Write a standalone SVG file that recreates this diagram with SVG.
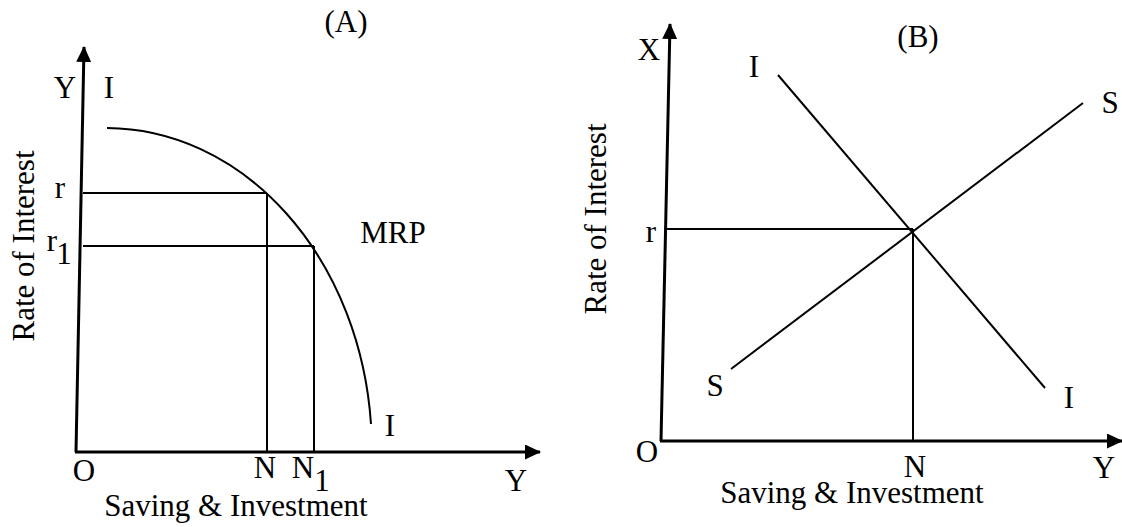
<svg xmlns="http://www.w3.org/2000/svg" width="1122" height="527" viewBox="0 0 1122 527">
<defs>
<marker id="arr" markerWidth="16" markerHeight="15" refX="15" refY="7.5" orient="auto" markerUnits="userSpaceOnUse">
<path d="M0,0 L16,7.5 L0,15 Z" fill="#000"/>
</marker>
<style>
.t{font-family:"Liberation Serif","Times New Roman",serif;font-size:31px;fill:#000;text-anchor:middle}
.ax{stroke:#000;stroke-width:3;fill:none}
.ln{stroke:#000;stroke-width:2;fill:none}
</style>
</defs>
<rect width="1122" height="527" fill="#fff"/>
<g id="connectors">
<line class="ax" x1="76" y1="452" x2="84" y2="47" marker-end="url(#arr)"/>
<line class="ax" x1="75" y1="452" x2="540" y2="452" marker-end="url(#arr)"/>
<line class="ln" x1="83" y1="193" x2="267" y2="193"/>
<line class="ln" x1="267" y1="193" x2="267" y2="452"/>
<line class="ln" x1="83" y1="246" x2="314" y2="246"/>
<line class="ln" x1="314" y1="246" x2="314" y2="452"/>
<line class="ax" x1="661" y1="441" x2="670" y2="24" marker-end="url(#arr)"/>
<line class="ax" x1="660" y1="441" x2="1122" y2="441" marker-end="url(#arr)"/>
<line class="ln" x1="666" y1="229" x2="913" y2="229"/>
<line class="ln" x1="913" y1="229" x2="913" y2="441"/>
</g>
<g id="curve-MRP">
<path class="ln" d="M107,128 A266,322 0 0 1 371,424"/>
</g>
<g id="line-II">
<line class="ln" x1="778" y1="75" x2="1045" y2="388"/>
</g>
<g id="line-SS">
<line class="ln" x1="731" y1="369" x2="1083" y2="103"/>
</g>
<g id="labels-A">
<text class="t" x="346" y="32">(A)</text>
<text class="t" x="65" y="98">Y</text>
<text class="t" x="109" y="98">I</text>
<text class="t" x="60" y="198">r</text>
<text class="t" x="52" y="251">r</text>
<text class="t" x="64" y="264">1</text>
<text class="t" x="393" y="243">MRP</text>
<text class="t" x="390" y="436">I</text>
<text class="t" x="84" y="481">O</text>
<text class="t" x="265" y="478">N</text>
<text class="t" x="303" y="478">N</text>
<text class="t" x="322" y="491">1</text>
<text class="t" x="516" y="491">Y</text>
<text class="t" x="236" y="516">Saving &amp; Investment</text>
<text class="t" transform="translate(34,246) rotate(-90)">Rate of Interest</text>
</g>
<g id="labels-B">
<text class="t" x="918" y="47">(B)</text>
<text class="t" x="649" y="60">X</text>
<text class="t" x="754" y="77">I</text>
<text class="t" x="1110" y="113">S</text>
<text class="t" x="651" y="242">r</text>
<text class="t" x="715" y="396">S</text>
<text class="t" x="1069" y="408">I</text>
<text class="t" x="647" y="462">O</text>
<text class="t" x="915" y="477">N</text>
<text class="t" x="1104" y="478">Y</text>
<text class="t" x="852" y="503">Saving &amp; Investment</text>
<text class="t" transform="translate(606,219) rotate(-90)">Rate of Interest</text>
</g>
</svg>
